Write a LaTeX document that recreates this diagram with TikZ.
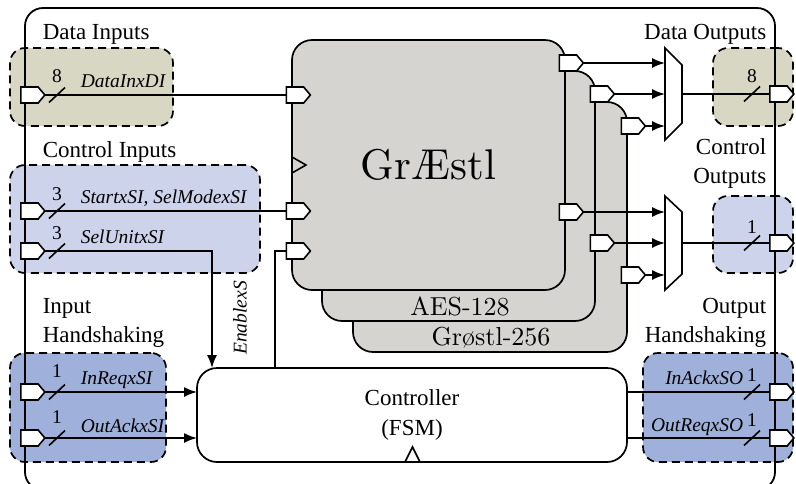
\documentclass[tikz,border=0pt]{standalone}
\usepackage{fontspec}
\setmainfont{Liberation Serif}
\newfontfamily\lmr{lmroman10-regular}[Extension=.otf]
\usetikzlibrary{shapes.symbols,arrows.meta}
\definecolor{olivebox}{HTML}{D8D7C3}
\definecolor{ctrlbox}{HTML}{CCD3EA}
\definecolor{hsbox}{HTML}{9FB0DB}
\definecolor{blockgray}{HTML}{D5D4D0}
\newcommand\busslash[2]{\draw[wire] (#1-8,#2+7.5) -- (#1+8,#2-7.5);}
\begin{document}
\begin{tikzpicture}[x=1pt,y=-1pt,line width=1.6pt,
  wire/.style={line width=1.6pt},
  arr/.style={wire,-{Latex[length=13pt,width=10pt]}},
  grp/.style={draw,line width=1.7pt,dash pattern=on 8pt off 5pt,rounded corners=15pt,inner sep=0pt},
  blk/.style={draw,fill=blockgray,line width=1.7pt,rounded corners=20pt,inner sep=0pt},
  port/.style={shape=signal,signal to=east,draw,fill=white,line width=1.6pt,minimum width=24pt,minimum height=16pt,inner sep=0pt,signal pointer angle=100},
  head/.style={inner sep=0pt,font=\fontsize{23}{29}\selectfont},
  sig/.style={inner sep=0pt,font=\fontsize{19.5}{22}\selectfont\itshape},
  num/.style={inner sep=0pt,font=\fontsize{19.5}{22}\selectfont},
  mux/.style={draw,fill=white,line width=1.6pt}]
\useasboundingbox (0,0) rectangle (796,483);
% group boxes
\node[grp,fill=olivebox,minimum width=163pt,minimum height=78pt] (din) at (91.5,87) {};
\node[grp,fill=ctrlbox,minimum width=250pt,minimum height=108pt] (cin) at (135,219) {};
\node[grp,fill=hsbox,minimum width=156pt,minimum height=109pt] (hin) at (88,407.5) {};
\node[grp,fill=olivebox,minimum width=80pt,minimum height=78pt] (dout) at (753,87) {};
\node[grp,fill=ctrlbox,minimum width=80pt,minimum height=77pt] (cout) at (753,234.5) {};
\node[grp,fill=hsbox,minimum width=150pt,minimum height=109pt] (hout) at (718,407.5) {};
% frame
\draw[line width=1.8pt,rounded corners=18pt] (25,8) rectangle (775,490);
% headings
\node[head,anchor=west] (hdi) at (42,34) {Data Inputs};
\node[head,anchor=west] (hci) at (42,152) {Control Inputs};
\node[head,anchor=west,align=left] (hhi) at (42,323) {Input\\Handshaking};
\node[head,anchor=east] (hdo) at (767,34) {Data Outputs};
\node[head,anchor=east,align=right] (hco) at (767,163.5) {Control\\Outputs};
\node[head,anchor=east,align=right] (hho) at (767,323) {Output\\Handshaking};
% blocks
\node[blk,minimum width=274pt,minimum height=250pt] (b3) at (490,227) {};
\node[blk,minimum width=273pt,minimum height=250pt] (b2) at (458.5,196) {};
\node[blk,minimum width=273pt,minimum height=250pt,font=\lmr\fontsize{43}{50}\selectfont] (b1) at (428.5,165) {GrÆstl};
\node[inner sep=0pt,font=\lmr\fontsize{26}{30}\selectfont] (l2) at (460,306) {AES-128};
\node[inner sep=0pt,font=\lmr\fontsize{26}{30}\selectfont] (l3) at (491,338) {Grøstl-256};
\draw[line width=1.6pt] (292,157) -- (306,165) -- (292,173);
% controller
\node[draw,fill=white,line width=1.7pt,rounded corners=20pt,minimum width=430pt,minimum height=94pt,align=center,font=\fontsize{23}{30}\selectfont] (ctl) at (412,415) {Controller\\(FSM)};
\draw[line width=1.6pt] (405,462) -- (412.5,447) -- (420,462);
% muxes
\draw[mux] (665,48) coordinate (m1t) -- (682,65) -- (682,123) -- (665,140) -- cycle;
\draw[mux] (665,196) coordinate (m2t) -- (682,212) -- (682,274) -- (665,290) -- cycle;
\coordinate (m1a) at (665,63); \coordinate (m1b) at (665,94); \coordinate (m1c) at (665,126); \coordinate (m1o) at (682,94);
\coordinate (m2a) at (665,212); \coordinate (m2b) at (665,243); \coordinate (m2c) at (665,275); \coordinate (m2o) at (682,243);
% wires from inputs
\draw[wire] (29.5,95) -- (295,95);
\draw[wire] (29.5,211) -- (295,211);
\draw[arr] (29.5,251) -- (212,251) -- (212,368);
\draw[wire] (275,368) -- (275,251) -- (295,251);
\draw[arr] (29.5,392) -- (197,392);
\draw[arr] (29.5,438) -- (197,438);
\draw[wire] (627,392) -- (778,392);
\draw[wire] (627,438) -- (778,438);
\draw[wire] (m1o) -- (778,94);
\draw[wire] (m2o) -- (778,243);
\draw[arr] (568,63) -- (m1a);
\draw[arr] (599,94) -- (m1b);
\draw[arr] (630,126) -- (m1c);
\draw[arr] (568,212) -- (m2a);
\draw[arr] (599,243) -- (m2b);
\draw[arr] (630,275) -- (m2c);
% ports
\node[port] (pdi) at (29.5,95) {};
\node[port] (pst) at (29.5,211) {};
\node[port] (psu) at (29.5,251) {};
\node[port] (prq) at (29.5,392) {};
\node[port] (pac) at (29.5,438) {};
\node[port] (qdi) at (295,95) {};
\node[port] (qst) at (295,211) {};
\node[port] (qen) at (295,251) {};
\node[port] (o1a) at (568,63) {};
\node[port] (o2a) at (599,94) {};
\node[port] (o3a) at (630,126) {};
\node[port] (o1b) at (568,212) {};
\node[port] (o2b) at (599,243) {};
\node[port] (o3b) at (630,275) {};
\node[port] (pdo) at (778.5,94) {};
\node[port] (pco) at (778.5,243) {};
\node[port] (pak) at (778.5,392) {};
\node[port] (prs) at (778.5,438) {};
% bus slashes and widths
\busslash{57}{95} \busslash{57}{211} \busslash{57}{251} \busslash{57}{392} \busslash{57}{438}
\busslash{752}{94} \busslash{752}{243} \busslash{752}{392} \busslash{752}{438}
\node[num] at (57,76) {8};
\node[num] at (57,194) {3};
\node[num] at (57,233) {3};
\node[num] at (57,371) {1};
\node[num] at (57,417) {1};
\node[num] at (752,76) {8};
\node[num] at (752,227) {1};
\node[num] at (752,375) {1};
\node[num] at (752,420) {1};
% signal names
\node[sig,anchor=west] at (80,81) {DataInxDI};
\node[sig,anchor=west] at (80,198) {StartxSI, SelModexSI};
\node[sig,anchor=west] at (80,236.5) {SelUnitxSI};
\node[sig,anchor=west] at (80,380) {InReqxSI};
\node[sig,anchor=west] at (80,425.5) {OutAckxSI};
\node[sig,anchor=east] at (744,377.5) {InAckxSO};
\node[sig,anchor=east] at (744,427) {OutReqxSO};
\node[sig,rotate=90] at (240,318) {EnablexS};
\end{tikzpicture}
\end{document}
